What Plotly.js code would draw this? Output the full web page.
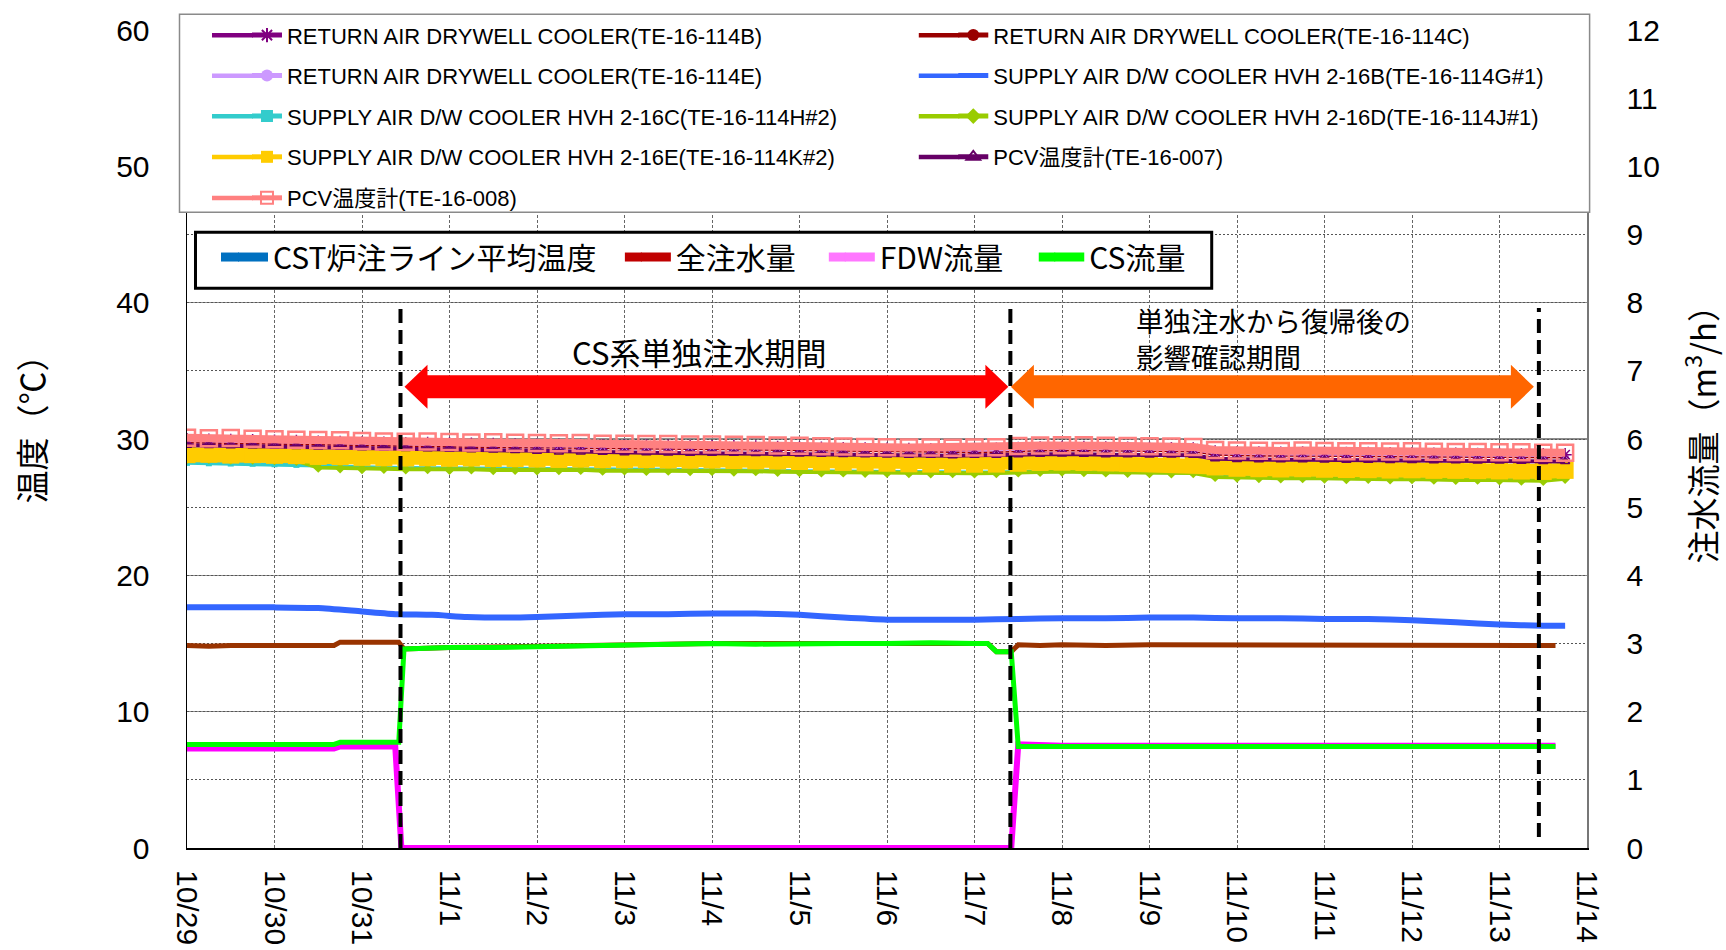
<!DOCTYPE html>
<html>
<head>
<meta charset="utf-8">
<script src="https://cdn.plot.ly/plotly-3.0.1.min.js"></script>
<style>
  html, body { margin: 0; padding: 0; background: #fff; }
  #chart { width: 1726px; height: 950px; }
</style>
</head>
<body>
<div id="chart"></div>
<script>
// ---------------- data ----------------
// x values are days elapsed since 10/29 00:00
const dayTicks   = [0,1,2,3,4,5,6,7,8,9,10,11,12,13,14,15,16];
const dateLabels = ["10/29","10/30","10/31","11/1","11/2","11/3","11/4","11/5","11/6",
                    "11/7","11/8","11/9","11/10","11/11","11/12","11/13","11/14"];

// period boundaries (days): start of CS-only injection, return, end of check period
const phaseBounds = [2.44, 9.41, 15.45];

// temperature sampling times (days)
const tTemp = [0,0.25,0.5,0.75,1,1.25,1.5,1.75,2,2.25,2.5,2.75,3,3.25,3.5,3.75,
               4,4.25,4.5,4.75,5,5.25,5.5,5.75,6,6.25,6.5,6.75,7,7.25,7.5,7.75,
               8,8.25,8.5,8.75,9,9.25,9.5,9.75,10,10.25,10.5,10.75,11,11.25,11.5,11.75,
               12,12.25,12.5,12.75,13,13.25,13.5,13.75,14,14.25,14.5,14.75,15,15.25,15.5,15.75];

// RETURN AIR DRYWELL COOLER (TE-16-114B)
const te114B = [29.95,29.92,29.90,29.88,29.85,29.82,29.78,29.76,
                29.72,29.70,29.66,29.68,29.64,29.62,29.60,29.58,
                29.56,29.55,29.54,29.52,29.50,29.50,29.48,29.46,
                29.45,29.44,29.42,29.38,29.35,29.33,29.30,29.28,
                29.26,29.24,29.22,29.22,29.24,29.26,29.32,29.36,
                29.38,29.38,29.35,29.33,29.32,29.30,29.28,29.05,
                29.00,28.98,28.97,28.98,28.96,28.95,28.94,28.92,
                28.93,28.90,28.90,28.88,28.88,28.86,28.85,28.85];
// RETURN AIR DRYWELL COOLER (TE-16-114C)
const te114C = [29.75,29.72,29.70,29.68,29.64,29.62,29.58,29.56,
                29.52,29.50,29.46,29.47,29.44,29.42,29.40,29.38,
                29.36,29.34,29.34,29.32,29.30,29.28,29.28,29.26,
                29.25,29.24,29.22,29.18,29.15,29.13,29.10,29.08,
                29.06,29.04,29.03,29.02,29.03,29.05,29.12,29.16,
                29.18,29.18,29.15,29.13,29.12,29.10,29.08,28.85,
                28.80,28.78,28.77,28.78,28.76,28.75,28.74,28.72,
                28.73,28.70,28.70,28.68,28.68,28.66,28.65,28.65];
// RETURN AIR DRYWELL COOLER (TE-16-114E)
const te114E = [29.85,29.82,29.80,29.78,29.75,29.72,29.68,29.66,
                29.62,29.60,29.56,29.57,29.54,29.52,29.50,29.48,
                29.46,29.44,29.44,29.42,29.40,29.38,29.38,29.36,
                29.35,29.34,29.32,29.28,29.25,29.23,29.20,29.18,
                29.16,29.14,29.13,29.12,29.13,29.15,29.22,29.26,
                29.28,29.28,29.25,29.23,29.22,29.20,29.18,28.95,
                28.90,28.88,28.87,28.88,28.86,28.85,28.84,28.82,
                28.83,28.80,28.80,28.78,28.78,28.76,28.75,28.75];
// SUPPLY AIR D/W COOLER HVH 2-16B (TE-16-114G#1)
const te114G = [28.80,28.82,28.78,28.80,28.76,28.74,28.68,28.66,
                28.60,28.58,28.56,28.57,28.54,28.55,28.52,28.50,
                28.48,28.46,28.47,28.44,28.42,28.43,28.40,28.40,
                28.40,28.38,28.36,28.33,28.30,28.26,28.24,28.20,
                28.18,28.14,28.12,28.10,28.11,28.12,28.18,28.24,
                28.26,28.24,28.21,28.18,28.16,28.16,28.14,27.90,
                27.80,27.78,27.76,27.78,27.74,27.72,27.70,27.68,
                27.70,27.66,27.66,27.64,27.62,27.60,27.58,27.66];
// SUPPLY AIR D/W COOLER HVH 2-16C (TE-16-114H#2)
const te114H = [28.25,28.22,28.20,28.18,28.15,28.10,28.05,27.98,
                27.92,27.90,27.88,27.88,27.85,27.85,27.82,27.82,
                27.80,27.80,27.78,27.76,27.76,27.74,27.74,27.72,
                27.72,27.70,27.68,27.66,27.64,27.62,27.60,27.58,
                27.56,27.55,27.55,27.54,27.54,27.55,27.60,27.64,
                27.66,27.64,27.60,27.58,27.56,27.55,27.54,27.30,
                27.25,27.22,27.20,27.20,27.18,27.16,27.14,27.12,
                27.12,27.10,27.08,27.08,27.06,27.04,27.02,27.14];
// SUPPLY AIR D/W COOLER HVH 2-16D (TE-16-114J#1)
const te114J = [28.55,28.55,28.50,28.50,28.45,28.40,27.90,27.85,
                27.80,27.82,27.78,27.80,27.75,27.78,27.72,27.74,
                27.70,27.72,27.75,27.68,27.70,27.66,27.68,27.65,
                27.66,27.62,27.64,27.60,27.58,27.55,27.55,27.52,
                27.52,27.50,27.48,27.50,27.48,27.50,27.55,27.60,
                27.62,27.58,27.55,27.52,27.50,27.48,27.50,27.22,
                27.17,27.14,27.12,27.14,27.10,27.07,27.08,27.04,
                27.06,27.02,27.00,27.02,26.97,26.95,26.93,27.08];
// SUPPLY AIR D/W COOLER HVH 2-16E (TE-16-114K#2)
const te114K = [28.85,28.88,28.82,28.85,28.80,28.78,28.72,28.70,
                28.65,28.62,28.60,28.62,28.58,28.60,28.56,28.55,
                28.52,28.50,28.52,28.48,28.47,28.48,28.45,28.44,
                28.45,28.42,28.40,28.38,28.35,28.30,28.28,28.25,
                28.22,28.18,28.16,28.15,28.15,28.16,28.22,28.28,
                28.30,28.28,28.25,28.22,28.20,28.20,28.18,27.95,
                27.85,27.82,27.80,27.82,27.78,27.76,27.75,27.72,
                27.74,27.70,27.70,27.68,27.66,27.65,27.62,27.70];
// PCV温度計 (TE-16-007)
const pcv007 = [29.55,29.52,29.50,29.50,29.48,29.45,29.42,29.40,
                29.35,29.32,29.30,29.28,29.25,29.22,29.20,29.15,
                29.10,29.05,29.05,29.02,29.00,29.00,28.98,28.96,
                28.95,28.95,28.93,28.92,28.90,28.88,28.86,28.85,
                28.82,28.80,28.80,28.78,28.80,28.80,28.85,28.88,
                28.90,28.88,28.85,28.84,28.82,28.82,28.80,28.55,
                28.50,28.48,28.47,28.48,28.46,28.45,28.44,28.42,
                28.43,28.40,28.40,28.38,28.38,28.36,28.35,28.35];
// PCV温度計 (TE-16-008)
const pcv008 = [30.10,30.05,30.08,30.02,29.98,29.95,29.92,29.90,
                29.85,29.82,29.80,29.82,29.78,29.75,29.76,29.72,
                29.70,29.68,29.70,29.66,29.65,29.63,29.64,29.60,
                29.60,29.58,29.56,29.52,29.50,29.47,29.45,29.42,
                29.40,29.38,29.38,29.36,29.37,29.40,29.48,29.52,
                29.55,29.55,29.50,29.48,29.46,29.45,29.42,29.20,
                29.15,29.14,29.12,29.15,29.12,29.10,29.10,29.08,
                29.10,29.06,29.05,29.05,29.03,29.02,29.00,29.00];

// CST炉注ライン平均温度 (°C)
const tCst = [0,0.5,1,1.5,2,2.4,2.8,3.2,3.6,4,4.5,5,5.5,6,6.5,7,7.5,8,8.5,9,
              9.5,10,10.5,11,11.5,12,12.5,13,13.5,14,14.5,15,15.5,15.75];
const cstTemp = [17.65,17.65,17.65,17.6,17.35,17.15,17.1,16.95,16.9,16.95,
                 17.05,17.15,17.15,17.2,17.2,17.1,16.9,16.75,16.75,16.75,
                 16.8,16.85,16.85,16.9,16.9,16.85,16.85,16.8,16.8,16.7,
                 16.55,16.4,16.3,16.3];

// 全注水量 (m3/h)
const tTotal = [0,0.25,0.5,0.75,1,1.25,1.5,1.68,1.75,2,2.2,2.42,2.48,3,4,5,6,7,8,9,
                9.15,9.25,9.42,9.5,9.75,10,10.5,11,11.5,12,12.5,13,13.5,14,14.5,15,15.64];
const totalFlow = [2.97,2.96,2.97,2.97,2.96,2.97,2.97,2.97,3.02,3.03,3.02,3.02,2.92,2.94,2.96,2.99,3.0,3.0,3.0,3.0,
                   3.0,2.88,2.88,2.98,2.97,2.98,2.97,2.98,2.98,2.97,2.98,2.98,2.97,2.98,2.98,2.97,2.97];

// FDW流量 (m3/h)
const tFdw = [0,0.5,1,1.5,1.68,1.75,2,2.38,2.45,3,4,5,6,7,8,9,9.42,9.5,10,11,12,13,14,15,15.64];
const fdwFlow = [1.46,1.46,1.46,1.46,1.46,1.49,1.49,1.49,0,0,0,0,0,0,0,0,0,1.52,1.5,1.5,1.51,1.5,1.5,1.5,1.5];

// CS流量 (m3/h)
const tCs = [0,0.5,1,1.5,1.68,1.75,2,2.42,2.48,3,3.5,4,4.5,5,5.5,6,6.5,7,7.5,8,
             8.5,9,9.15,9.25,9.42,9.5,10,10.5,11,11.5,12,12.5,13,13.5,14,14.5,15,15.64];
const csFlow = [1.52,1.52,1.52,1.52,1.52,1.55,1.55,1.55,2.92,2.94,2.94,2.95,2.96,2.98,2.99,3.0,2.99,3.0,3.0,3.0,
                3.01,3.0,3.0,2.88,2.88,1.49,1.49,1.48,1.49,1.49,1.48,1.49,1.49,1.48,1.49,1.49,1.48,1.49];

// ---------------- geometry helpers ----------------
const PLOT = { left: 187, right: 1587.4, top: 29.7, bottom: 847.6 };
const X_RANGE = [0, 16], Y_RANGE = [0, 60], Y2_RANGE = [0, 12];
const pxPerDay = (PLOT.right - PLOT.left) / (X_RANGE[1] - X_RANGE[0]);
const pxPerDeg = (PLOT.bottom - PLOT.top) / (Y_RANGE[1] - Y_RANGE[0]);
const paperX = px => (px - PLOT.left) / (PLOT.right - PLOT.left);
const paperY = py => (PLOT.bottom - py) / (PLOT.bottom - PLOT.top);
const dayAt = px => X_RANGE[0] + (px - PLOT.left) / pxPerDay;
const degAt = py => (PLOT.bottom - py) / pxPerDeg;

const LATIN = 'Liberation Sans, Arial, Noto Sans CJK JP, sans-serif';
const CJK = 'Noto Sans CJK JP, sans-serif';

// ---------------- traces ----------------
function tempTrace(name, legendId, y, color, lineWidth, marker) {
  const tr = {
    type: 'scatter', x: tTemp, y: y, name: name, legend: legendId,
    mode: marker ? 'lines+markers' : 'lines',
    line: { color: color, width: lineWidth },
    hoverinfo: 'skip'
  };
  if (marker) tr.marker = marker;
  return tr;
}

const traces = [
  { type: 'scatter', x: tTotal, y: totalFlow, yaxis: 'y2', mode: 'lines',
    line: { color: '#993300', width: 5 }, showlegend: false, hoverinfo: 'skip' },
  { type: 'scatter', x: tFdw, y: fdwFlow, yaxis: 'y2', mode: 'lines',
    line: { color: '#FF00FF', width: 6 }, showlegend: false, hoverinfo: 'skip' },
  { type: 'scatter', x: tCs, y: csFlow, yaxis: 'y2', mode: 'lines',
    line: { color: '#00FF00', width: 5 }, showlegend: false, hoverinfo: 'skip' },
  { type: 'scatter', x: tCst, y: cstTemp, mode: 'lines',
    line: { color: '#3366FF', width: 6, shape: 'spline', smoothing: 0.6 },
    showlegend: false, hoverinfo: 'skip' },

  tempTrace('SUPPLY AIR D/W COOLER HVH 2-16C(TE-16-114H#2)', 'legend5', te114H, '#33CCCC', 4,
            { symbol: 'square', size: 6, color: '#33CCCC' }),
  tempTrace('SUPPLY AIR D/W COOLER HVH 2-16B(TE-16-114G#1)', 'legend4', te114G, '#3366FF', 3, null),
  tempTrace('RETURN AIR DRYWELL COOLER(TE-16-114C)', 'legend2', te114C, '#990000', 2,
            { symbol: 'circle', size: 7, color: '#990000' }),
  tempTrace('RETURN AIR DRYWELL COOLER(TE-16-114E)', 'legend3', te114E, '#CC99FF', 2,
            { symbol: 'circle', size: 7, color: '#CC99FF' }),
  tempTrace('SUPPLY AIR D/W COOLER HVH 2-16D(TE-16-114J#1)', 'legend6', te114J, '#99CC00', 4,
            { symbol: 'diamond', size: 8, color: '#99CC00' }),
  tempTrace('SUPPLY AIR D/W COOLER HVH 2-16E(TE-16-114K#2)', 'legend7', te114K, '#FFCC00', 15,
            { symbol: 'square', size: 17, color: '#FFCC00' }),
  tempTrace('RETURN AIR DRYWELL COOLER(TE-16-114B)', 'legend', te114B, '#800080', 2,
            { symbol: 'asterisk-open', size: 11, color: '#800080', line: { color: '#800080', width: 1.5 } }),
  tempTrace('PCV温度計(TE-16-007)', 'legend8', pcv007, '#660066', 4,
            { symbol: 'triangle-up-open', size: 8, color: '#660066', line: { color: '#660066', width: 1.5 } }),
  tempTrace('PCV温度計(TE-16-008)', 'legend9', pcv008, '#FF8080', 8,
            { symbol: 'square-open', size: 16, color: '#FF8080', line: { color: '#FF8080', width: 2.5 } }),

  // key entries for the injection / water-temperature series
  { type: 'scatter', x: [null], y: [null], mode: 'lines', name: 'CST炉注ライン平均温度',
    legend: 'legend10', line: { color: '#0070C0', width: 9 } },
  { type: 'scatter', x: [null], y: [null], mode: 'lines', name: '全注水量',
    legend: 'legend11', line: { color: '#C00000', width: 9 } },
  { type: 'scatter', x: [null], y: [null], mode: 'lines', name: 'FDW流量',
    legend: 'legend12', line: { color: '#FF77FF', width: 9 } },
  { type: 'scatter', x: [null], y: [null], mode: 'lines', name: 'CS流量',
    legend: 'legend13', line: { color: '#00FF00', width: 9 } }
];

// ---------------- legends (one per entry, placed on a grid) ----------------
const TEXT_OFFSET = 40;   // distance from legend left edge to its label
const SYMBOL_START = 35;  // distance from label back to the start of the key line
function legendAt(textLeft, centerY, font, sizing) {
  return {
    x: paperX(textLeft - TEXT_OFFSET), y: paperY(centerY),
    xanchor: 'left', yanchor: 'middle', xref: 'paper', yref: 'paper',
    bgcolor: 'rgba(0,0,0,0)', borderwidth: 0, font: font,
    itemsizing: sizing, itemclick: false, itemdoubleclick: false
  };
}
const keyFont = { family: LATIN, size: 22, color: '#000' };
const key2Font = { family: CJK, size: 30, color: '#000' };
const COL_L = 287, COL_R = 993.5;
const ROWS = [35, 75.5, 116, 156.7, 197.7];
const KEY2_Y = 256.7;

// placement of each key entry: label left, row centre, where its key line begins, line width
const keySlots = {
  legend:   [COL_L, ROWS[0], 212, 4.5], legend2: [COL_R, ROWS[0], 919, 4.5],
  legend3:  [COL_L, ROWS[1], 212, 4.5], legend4: [COL_R, ROWS[1], 919, 4.5],
  legend5:  [COL_L, ROWS[2], 212, 4.5], legend6: [COL_R, ROWS[2], 919, 4.5],
  legend7:  [COL_L, ROWS[3], 212, 4.5], legend8: [COL_R, ROWS[3], 919, 4.5],
  legend9:  [COL_L, ROWS[4], 212, 4.5],
  legend10: [273, KEY2_Y, 221, 9], legend11: [676, KEY2_Y, 625, 9],
  legend12: [880, KEY2_Y, 829, 9], legend13: [1089.5, KEY2_Y, 1039, 9]
};

const layout = {
  width: 1726, height: 950,
  paper_bgcolor: '#fff', plot_bgcolor: '#fff',
  margin: { l: PLOT.left, r: 1726 - PLOT.right, t: PLOT.top, b: 950 - PLOT.bottom, pad: 0, autoexpand: false },
  showlegend: true,
  xaxis: {
    range: X_RANGE, tickmode: 'array', tickvals: dayTicks, ticktext: dateLabels,
    tickangle: 90, tickfont: { family: LATIN, size: 30, color: '#000' },
    ticks: '', ticklabelstandoff: 14,
    showgrid: true, gridcolor: '#666', gridwidth: 1, griddash: '3px,2px',
    showline: true, linecolor: '#000', linewidth: 2, zeroline: false, fixedrange: true
  },
  yaxis: {
    range: Y_RANGE, tick0: 0, dtick: 10,
    tickfont: { family: LATIN, size: 30, color: '#000' },
    ticks: '', ticklabelstandoff: 30,
    showgrid: true, gridcolor: '#8c8c8c', gridwidth: 1.5,
    showline: true, linecolor: '#000', linewidth: 1.5, zeroline: false, fixedrange: true
  },
  yaxis2: {
    range: Y2_RANGE, tick0: 0, dtick: 1, overlaying: 'y', side: 'right',
    tickfont: { family: LATIN, size: 30, color: '#000' },
    ticks: '', ticklabelstandoff: 32,
    showgrid: true, gridcolor: '#555', gridwidth: 1, griddash: '2px,2px',
    showline: true, linecolor: '#777', linewidth: 1.5, zeroline: false, fixedrange: true
  },
  shapes: [],
  annotations: []
};

// key frames
layout.shapes.push({
  type: 'rect', xref: 'paper', yref: 'paper', layer: 'above',
  x0: paperX(179.5), x1: paperX(1590), y0: paperY(212), y1: paperY(14),
  fillcolor: '#fff', line: { color: '#8a8a8a', width: 1.5 }
});
layout.shapes.push({
  type: 'rect', xref: 'paper', yref: 'paper', layer: 'above',
  x0: paperX(195.5), x1: paperX(1212), y0: paperY(288), y1: paperY(232),
  fillcolor: '#fff', line: { color: '#000', width: 3 }
});

// one legend per keyed trace, plus a longer key line leading into its symbol
traces.forEach(tr => {
  if (tr.showlegend === false) return;
  const [textLeft, cy, lineStart, lw] = keySlots[tr.legend];
  const font = cy === KEY2_Y ? key2Font : keyFont;
  layout[tr.legend] = legendAt(textLeft, cy, font, cy === KEY2_Y ? 'trace' : 'constant');
  layout.shapes.push({
    type: 'line', xref: 'paper', yref: 'paper', layer: 'above',
    x0: paperX(lineStart), x1: paperX(textLeft - SYMBOL_START + 1), y0: paperY(cy), y1: paperY(cy),
    line: { color: tr.line.color, width: lw }
  });
});

// period boundary lines
const boundTop = 39.6;
const boundBottom = [0, 0, 0.8];
phaseBounds.forEach((b, i) => {
  layout.shapes.push({
    type: 'line', xref: 'x', yref: 'y', layer: 'above',
    x0: b, x1: b, y0: boundBottom[i], y1: boundTop,
    line: { color: '#000', width: 4, dash: '14px,7px' }
  });
});

// double-headed period arrows
function doubleArrow(x0, x1, yc, color) {
  const hl = 23 / pxPerDay, sh = 11.5 / pxPerDeg, hh = 22 / pxPerDeg;
  const p = [[x0, yc], [x0 + hl, yc + hh], [x0 + hl, yc + sh], [x1 - hl, yc + sh], [x1 - hl, yc + hh],
             [x1, yc], [x1 - hl, yc - hh], [x1 - hl, yc - sh], [x0 + hl, yc - sh], [x0 + hl, yc - hh]];
  return {
    type: 'path', xref: 'x', yref: 'y', layer: 'above',
    path: 'M' + p.map(q => q[0].toFixed(4) + ',' + q[1].toFixed(4)).join('L') + 'Z',
    fillcolor: color, line: { width: 0 }
  };
}
const arrowY = degAt(386.5);
layout.shapes.push(doubleArrow(phaseBounds[0] + 4 / pxPerDay, phaseBounds[1] - 2 / pxPerDay, arrowY, '#FF0000'));
layout.shapes.push(doubleArrow(phaseBounds[1] + 0.5 / pxPerDay, phaseBounds[2] - 5 / pxPerDay, arrowY, '#FF6600'));

// period labels
layout.annotations.push({
  text: 'CS系単独注水期間', xref: 'x', yref: 'y', x: dayAt(699), y: degAt(351),
  xanchor: 'center', yanchor: 'middle', showarrow: false,
  font: { family: CJK, size: 31, color: '#000' }
});
layout.annotations.push({
  text: '単独注水から復帰後の<br>影響確認期間', xref: 'x', yref: 'y', x: dayAt(1134), y: degAt(337.5),
  xanchor: 'left', yanchor: 'middle', align: 'left', showarrow: false,
  font: { family: CJK, size: 27.5, color: '#000' }
});

// axis titles
layout.annotations.push({
  text: '温度（℃）', xref: 'paper', yref: 'paper', x: paperX(31), y: paperY(421),
  xanchor: 'center', yanchor: 'middle', textangle: -90, showarrow: false,
  font: { family: CJK, size: 33, color: '#000' }
});
layout.annotations.push({
  text: '注水流量（m<sup>3</sup>/h）', xref: 'paper', yref: 'paper', x: paperX(1701), y: paperY(426.5),
  xanchor: 'center', yanchor: 'middle', textangle: -90, showarrow: false,
  font: { family: CJK, size: 33, color: '#000' }
});

Plotly.newPlot('chart', traces, layout, { staticPlot: true, displayModeBar: false });
</script>
</body>
</html>
